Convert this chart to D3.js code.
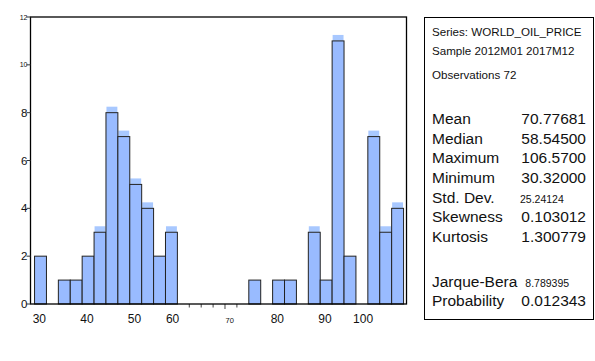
<!DOCTYPE html>
<html lang="en">
<head>
<meta charset="UTF-8" />
<title>Histogram - WORLD_OIL_PRICE</title>
<script src="https://d3js.org/d3.v7.min.js"></script>
<style>
    body { margin: 0; padding: 0; background: #fff; }
    svg text { font-family: 'Liberation Sans', Arial, sans-serif; fill: #111; }
</style>
</head>
<body>
<svg id="chart" width="595" height="361"></svg>
<script>
    // histogram bins (width 2.5) and their counts
    const binStarts = [30, 32.5, 35, 37.5, 40, 42.5, 45, 47.5, 50, 52.5, 55, 57.5, 60, 62.5, 65, 67.5,
        70, 72.5, 75, 77.5, 80, 82.5, 85, 87.5, 90, 92.5, 95, 97.5, 100, 102.5, 105];
    const counts = [2, 0, 1, 1, 2, 3, 8, 7, 5, 4, 2, 3, 0, 0, 0, 0,
        0, 0, 1, 0, 1, 1, 0, 3, 1, 11, 2, 0, 7, 3, 4];
    const binWidth = 2.5;

    const xTickLabels = ['30', '40', '50', '60', '70', '80', '90', '100'];
    const xTickPositions = [31, 41, 51, 59, 71, 81, 91, 99];
    const yTickValues = [0, 2, 4, 6, 8, 10, 12];

    const headerLines = ['Series: WORLD_OIL_PRICE', 'Sample 2012M01 2017M12', 'Observations 72'];
    const statNames = ['Mean', 'Median', 'Maximum', 'Minimum', 'Std. Dev.', 'Skewness', 'Kurtosis'];
    const statValues = ['70.77681', '58.54500', '106.5700', '30.32000', '25.24124', '0.103012', '1.300779'];
    const testNames = ['Jarque-Bera', 'Probability'];
    const testValues = ['8.789395', '0.012343'];

    const svg = d3.select('#chart');
    const plot = { left: 30.5, right: 406.5, top: 17, bottom: 304 };

    const x = d3.scaleLinear().domain([29.15, 108.12]).range([plot.left, plot.right]);
    const y = d3.scaleLinear().domain([0, 12]).range([plot.bottom, plot.top]);

    const bins = binStarts.map((s, i) => ({ start: s, count: counts[i] })).filter((d) => d.count > 0);

    // pale blue tops on the taller bars
    svg.append('g')
        .selectAll('rect')
        .data(bins.filter((d) => d.count >= 3))
        .join('rect')
        .attr('x', (d) => x(d.start) + 0.5)
        .attr('y', (d) => y(d.count + 0.25))
        .attr('width', (d) => x(d.start + binWidth) - x(d.start) - 1)
        .attr('height', (d) => y(d.count) - y(d.count + 0.25))
        .attr('fill', '#a8c8ff');

    svg.append('g')
        .selectAll('rect')
        .data(bins)
        .join('rect')
        .attr('x', (d) => x(d.start))
        .attr('y', (d) => y(d.count))
        .attr('width', (d) => x(d.start + binWidth) - x(d.start))
        .attr('height', (d) => y(0) - y(d.count))
        .attr('fill', '#99bbff')
        .attr('stroke', '#222')
        .attr('stroke-width', 1);

    // small ticks where empty bins meet
    const gapTicks = binStarts.filter((s, i) => i > 0 && counts[i] === 0 && counts[i - 1] === 0);
    svg.append('g')
        .selectAll('line')
        .data(gapTicks)
        .join('line')
        .attr('x1', (d) => x(d))
        .attr('x2', (d) => x(d))
        .attr('y1', plot.bottom)
        .attr('y2', (d) => (d === 70 ? plot.bottom + 5 : plot.bottom + 3.5))
        .attr('stroke', '#444')
        .attr('stroke-width', 1);

    // frame
    svg.append('rect')
        .attr('x', plot.left)
        .attr('y', plot.top)
        .attr('width', plot.right - plot.left)
        .attr('height', plot.bottom - plot.top)
        .attr('fill', 'none')
        .attr('stroke', '#000')
        .attr('stroke-width', 1.3);

    // y axis
    const yg = svg.append('g');
    yg.selectAll('line')
        .data(yTickValues)
        .join('line')
        .attr('x1', plot.left - 4)
        .attr('x2', plot.left)
        .attr('y1', (d) => y(d))
        .attr('y2', (d) => y(d))
        .attr('stroke', '#333');
    yg.selectAll('text')
        .data(yTickValues)
        .join('text')
        .attr('x', plot.left - 3)
        .attr('y', (d) => y(d) + (d >= 10 ? 2.5 : 4))
        .attr('text-anchor', 'end')
        .attr('font-size', (d) => (d >= 10 ? '7px' : '11.5px'))
        .text((d) => d);

    // x labels
    svg.append('g')
        .selectAll('text')
        .data(xTickLabels)
        .join('text')
        .attr('x', (d, i) => x(xTickPositions[i]))
        .attr('y', 322.5)
        .attr('text-anchor', 'middle')
        .attr('font-size', (d) => (d === '70' ? '7.5px' : '12px'))
        .text((d) => d);

    // statistics box
    const box = svg.append('g');
    box.append('rect')
        .attr('x', 424.5)
        .attr('y', 17.5)
        .attr('width', 169)
        .attr('height', 302)
        .attr('fill', 'none')
        .attr('stroke', '#000')
        .attr('stroke-width', 1);

    const headerY = [36, 55, 79];
    box.selectAll('text.head')
        .data(headerLines)
        .join('text')
        .attr('class', 'head')
        .attr('x', 432)
        .attr('y', (d, i) => headerY[i])
        .attr('font-size', '11.6px')
        .text((d) => d);

    const statY = d3.scaleLinear().domain([0, 6]).range([124, 242]);
    box.selectAll('text.sname')
        .data(statNames)
        .join('text')
        .attr('class', 'sname')
        .attr('x', 432)
        .attr('y', (d, i) => statY(i))
        .attr('font-size', '15.5px')
        .text((d) => d);
    box.selectAll('text.sval')
        .data(statValues)
        .join('text')
        .attr('class', 'sval')
        .attr('x', (d, i) => (statNames[i] === 'Std. Dev.' ? 520 : 586))
        .attr('y', (d, i) => statY(i))
        .attr('text-anchor', (d, i) => (statNames[i] === 'Std. Dev.' ? 'start' : 'end'))
        .attr('font-size', (d, i) => (statNames[i] === 'Std. Dev.' ? '10.5px' : '15.5px'))
        .text((d) => d);

    const testY = [287, 306];
    const tnames = box.selectAll('text.tname')
        .data(testNames)
        .join('text')
        .attr('class', 'tname')
        .attr('x', 432)
        .attr('y', (d, i) => testY[i])
        .attr('font-size', '15.5px')
        .text((d) => d);
    const jbEnd = 432 + tnames.nodes()[0].getComputedTextLength();
    box.selectAll('text.tval')
        .data(testValues)
        .join('text')
        .attr('class', 'tval')
        .attr('x', (d, i) => (i === 0 ? jbEnd + 8 : 586))
        .attr('y', (d, i) => testY[i])
        .attr('text-anchor', (d, i) => (i === 0 ? 'start' : 'end'))
        .attr('font-size', (d, i) => (i === 0 ? '10.5px' : '15.5px'))
        .text((d) => d);
</script>
</body>
</html>
